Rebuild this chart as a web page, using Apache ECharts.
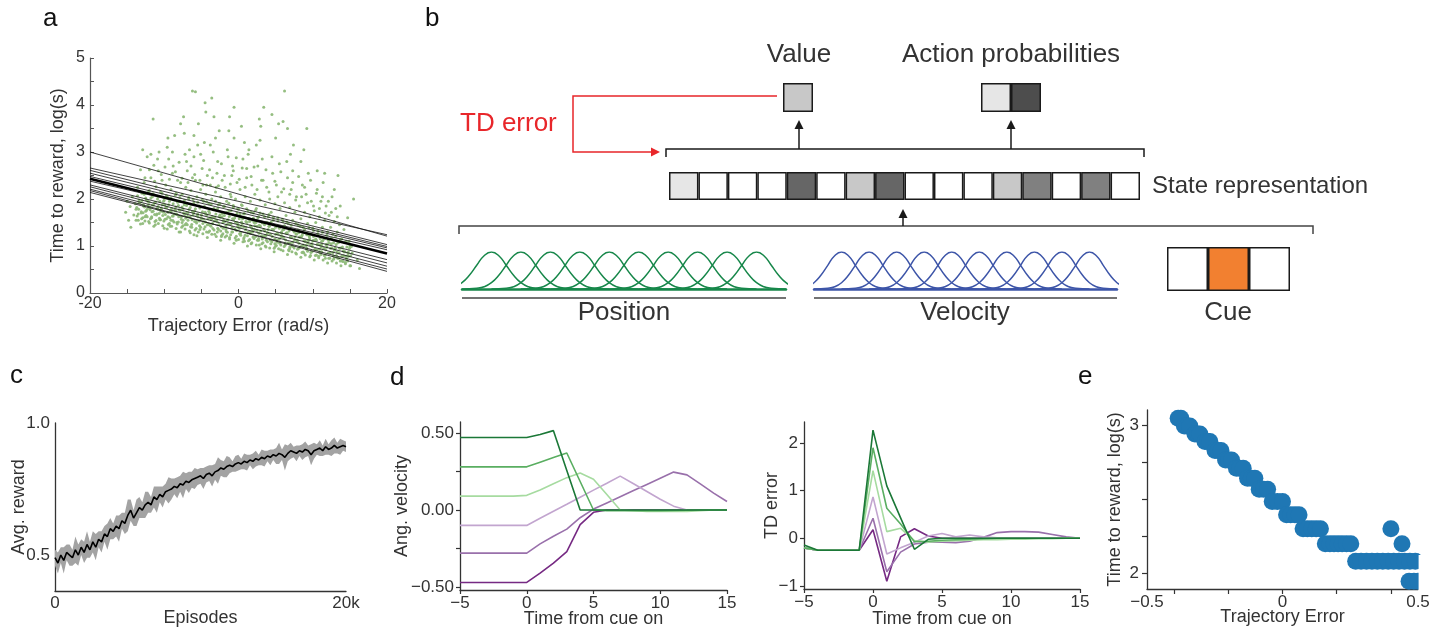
<!DOCTYPE html>
<html>
<head>
<meta charset="utf-8">
<script src="https://cdn.jsdelivr.net/npm/echarts@6/dist/echarts.min.js"></script>
<style>
html,body{margin:0;padding:0;background:#fff;}
#chart{width:1445px;height:641px;}
</style>
</head>
<body>
<div id="chart"></div>
<script>
// ---------- panel a: time to reward vs trajectory error ----------
const trialCloud = [
[-15.2,1.72],[-15.0,1.95],[-14.8,1.55],[-14.6,1.84],[-14.3,2.05],[-14.1,1.66],[-14.5,1.40],[-13.9,1.90],
[-13.8,1.78],[-13.6,2.25],[-13.5,1.55],[-13.4,1.98],[-13.2,2.62],[-13.1,1.70],[-13.0,2.12],[-12.9,1.48],[-12.8,1.88],[-12.7,2.35],[-12.6,1.62],[-12.5,2.02],[-12.4,1.76],[-12.3,2.90],[-12.2,1.95],[-12.1,1.52],[-12.0,2.18],[-12.9,3.05],
[-11.9,1.82],[-11.8,2.45],[-11.7,1.60],[-11.6,2.05],[-11.5,1.74],[-11.4,2.72],[-11.3,1.92],[-11.2,1.45],[-11.1,2.26],[-11.0,1.68],[-10.9,2.00],[-10.8,1.84],[-10.7,3.00],[-10.6,1.56],[-10.5,2.15],[-10.4,1.78],[-10.3,2.40],[-10.2,1.65],[-10.1,1.95],[-10.0,1.38],[-11.5,3.70],[-10.8,2.60],
[-9.9,1.88],[-9.8,2.30],[-9.7,1.58],[-9.6,2.05],[-9.5,1.72],[-9.4,2.85],[-9.3,1.95],[-9.2,1.42],[-9.1,2.20],[-9.0,1.80],[-8.9,2.55],[-8.8,1.64],[-8.7,1.98],[-8.6,3.35],[-8.5,1.76],[-8.4,2.12],[-8.3,1.50],[-8.2,2.40],[-8.1,1.86],[-8.0,1.30],[-9.6,3.10],[-8.8,2.70],[-9.1,1.55],[-8.4,1.68],
[-7.9,1.95],[-7.8,2.35],[-7.7,1.62],[-7.6,2.10],[-7.5,1.78],[-7.4,3.75],[-7.3,1.88],[-7.2,1.45],[-7.1,2.25],[-7.0,1.70],[-6.9,2.60],[-6.8,1.55],[-6.7,2.00],[-6.6,3.05],[-6.5,1.82],[-6.4,2.18],[-6.3,1.40],[-6.2,2.45],[-6.1,1.66],[-6.0,1.92],[-7.3,3.40],[-6.2,4.30],[-7.0,2.80],[-6.5,1.28],[-7.6,1.50],[-6.0,2.90],
[-5.9,1.75],[-5.8,2.40],[-5.7,1.52],[-5.6,2.05],[-5.5,1.68],[-5.4,3.60],[-5.3,1.85],[-5.2,1.35],[-5.1,2.20],[-5.0,1.60],[-4.9,2.65],[-4.8,1.48],[-4.7,1.95],[-4.6,3.20],[-4.5,1.72],[-4.4,2.10],[-4.3,1.30],[-4.2,2.50],[-4.1,1.58],[-4.0,1.90],[-5.8,4.28],[-5.1,2.95],[-4.4,3.85],[-5.6,1.22],[-4.8,2.30],[-4.2,1.45],
[-3.9,1.70],[-3.8,2.30],[-3.7,1.42],[-3.6,2.00],[-3.5,1.62],[-3.4,3.00],[-3.3,1.80],[-3.2,1.25],[-3.1,2.15],[-3.0,1.55],[-2.9,2.55],[-2.8,1.38],[-2.7,1.88],[-2.6,3.45],[-2.5,1.66],[-2.4,2.05],[-2.3,1.20],[-2.2,2.40],[-2.1,1.50],[-2.0,1.84],[-3.6,4.15],[-2.8,2.80],[-3.3,3.75],[-2.4,1.32],[-3.0,2.25],[-2.2,1.62],
[-1.9,1.65],[-1.8,2.25],[-1.7,1.35],[-1.6,1.95],[-1.5,1.55],[-1.4,2.90],[-1.3,1.75],[-1.2,1.18],[-1.1,2.10],[-1.0,1.48],[-0.9,2.50],[-0.8,1.30],[-0.7,1.82],[-0.6,3.30],[-0.5,1.60],[-0.4,2.00],[-0.3,1.12],[-0.2,2.35],[-0.1,1.42],[0.0,1.78],[-1.2,3.75],[-0.8,2.70],[-1.6,1.22],[-0.4,1.50],[-1.0,2.05],[-0.2,1.70],
[0.1,1.58],[0.2,2.20],[0.3,1.28],[0.4,1.88],[0.5,1.48],[0.6,2.85],[0.7,1.68],[0.8,1.10],[0.9,2.05],[1.0,1.40],[1.1,2.45],[1.2,1.22],[1.3,1.75],[1.4,3.05],[1.5,1.52],[1.6,1.95],[1.7,1.05],[1.8,2.30],[1.9,1.35],[2.0,1.70],[0.4,3.55],[1.1,2.65],[0.7,1.15],[1.6,1.30],[0.2,1.62],[1.9,1.55],
[2.1,1.50],[2.2,2.10],[2.3,1.20],[2.4,1.80],[2.5,1.42],[2.6,2.70],[2.7,1.62],[2.8,1.02],[2.9,1.98],[3.0,1.32],[3.1,2.40],[3.2,1.15],[3.3,1.68],[3.4,3.95],[3.5,1.45],[3.6,1.88],[3.7,0.98],[3.8,2.25],[3.9,1.28],[4.0,1.62],[2.4,3.15],[3.2,2.85],[2.7,1.12],[3.6,1.22],[2.2,1.55],[3.9,1.50],
[4.1,1.42],[4.2,2.00],[4.3,1.12],[4.4,1.72],[4.5,1.35],[4.6,2.55],[4.7,1.55],[4.8,0.95],[4.9,1.90],[5.0,1.25],[5.1,2.30],[5.2,1.08],[5.3,1.60],[5.4,3.60],[5.5,1.38],[5.6,1.80],[5.7,0.92],[5.8,2.15],[5.9,1.20],[6.0,1.52],[4.5,3.80],[5.5,2.75],[4.9,1.05],[5.8,1.30],[4.2,1.48],[6.2,4.30],
[6.1,1.35],[6.2,1.92],[6.3,1.05],[6.4,1.65],[6.5,1.28],[6.6,2.45],[6.7,1.48],[6.8,0.90],[6.9,1.82],[7.0,1.18],[7.1,2.20],[7.2,1.00],[7.3,1.55],[7.4,3.15],[7.5,1.30],[7.6,1.72],[7.7,0.85],[7.8,2.05],[7.9,1.12],[8.0,1.45],[6.6,3.50],[7.3,2.60],[6.9,0.98],[7.8,1.25],
[8.1,1.28],[8.2,1.85],[8.3,0.98],[8.4,1.58],[8.5,1.20],[8.6,2.30],[8.7,1.40],[8.8,0.85],[8.9,1.72],[9.0,1.10],[9.1,2.10],[9.2,0.95],[9.3,1.48],[9.4,2.55],[9.5,1.22],[9.6,1.62],[9.7,0.80],[9.8,1.95],[9.9,1.05],[10.0,1.38],[8.4,2.80],[9.2,3.50],[8.7,1.02],[9.6,1.15],
[10.1,1.20],[10.2,1.75],[10.3,0.92],[10.4,1.50],[10.5,1.12],[10.6,2.20],[10.7,1.32],[10.8,0.78],[10.9,1.62],[11.0,1.02],[11.1,1.95],[11.2,0.88],[11.3,1.40],[11.4,2.35],[11.5,1.15],[11.6,1.55],[11.7,0.74],[11.8,1.85],[11.9,0.98],[12.0,1.30],[10.6,2.60],[11.2,1.10],
[12.1,1.12],[12.2,1.65],[12.3,0.85],[12.4,1.40],[12.5,1.05],[12.6,2.05],[12.7,1.25],[12.8,0.72],[12.9,1.52],[13.0,0.95],[13.1,1.80],[13.2,0.80],[13.3,1.30],[13.4,2.50],[13.5,1.08],[13.6,1.45],[13.7,0.68],[13.9,1.15],
[14.1,0.90],[14.2,1.35],[14.4,0.65],[14.5,1.10],[14.7,1.60],[14.8,0.78],[15.0,1.00],[15.1,0.58],[15.3,0.85],[15.5,2.00],[16.0,0.70],[16.3,0.52]
];
// dense band of trials around the fitted trend
const trialCloudCore = [
[-13.8,1.55],[-13.7,1.82],[-13.6,2.07],[-13.5,1.68],[-13.4,1.92],[-13.3,2.16],[-13.2,1.47],[-13.1,1.73],[-13.0,1.97],
[-12.9,1.60],[-12.8,1.85],[-12.7,2.10],[-12.6,1.53],[-12.5,1.74],[-12.4,1.98],[-12.3,1.62],[-12.2,1.86],[-12.1,2.16],
[-12.0,1.49],[-11.9,1.77],[-11.8,2.02],[-11.7,1.62],[-11.6,1.87],[-11.5,2.11],[-11.4,1.42],[-11.3,1.67],[-11.2,1.93],
[-11.1,1.54],[-11.0,1.80],[-10.9,2.06],[-10.8,1.48],[-10.7,1.69],[-10.6,1.95],[-10.5,1.56],[-10.4,1.81],[-10.3,2.12],
[-10.2,1.43],[-10.1,1.72],[-10.0,1.98],[-9.9,1.57],[-9.8,1.82],[-9.7,2.07],[-9.6,1.36],[-9.5,1.62],[-9.4,1.88],
[-9.3,1.48],[-9.2,1.75],[-9.1,2.02],[-9.0,1.42],[-8.9,1.64],[-8.8,1.90],[-8.7,1.51],[-8.6,1.76],[-8.5,2.08],
[-8.4,1.37],[-8.3,1.67],[-8.2,1.93],[-8.1,1.51],[-8.0,1.77],[-7.9,2.03],[-7.8,1.30],[-7.7,1.57],[-7.6,1.83],
[-7.5,1.43],[-7.4,1.70],[-7.3,1.97],[-7.2,1.36],[-7.1,1.59],[-7.0,1.86],[-6.9,1.45],[-6.8,1.71],[-6.7,2.03],
[-6.6,1.32],[-6.5,1.62],[-6.4,1.89],[-6.3,1.46],[-6.2,1.73],[-6.1,1.99],[-6.0,1.24],[-5.9,1.52],[-5.8,1.79],
[-5.7,1.37],[-5.6,1.65],[-5.5,1.93],[-5.4,1.30],[-5.3,1.53],[-5.2,1.81],[-5.1,1.40],[-5.0,1.66],[-4.9,1.99],
[-4.8,1.26],[-4.7,1.57],[-4.6,1.84],[-4.5,1.41],[-4.4,1.68],[-4.3,1.94],[-4.2,1.18],[-4.1,1.46],[-4.0,1.74],
[-3.9,1.32],[-3.8,1.60],[-3.7,1.89],[-3.6,1.25],[-3.5,1.48],[-3.4,1.77],[-3.3,1.34],[-3.2,1.61],[-3.1,1.95],
[-3.0,1.20],[-2.9,1.52],[-2.8,1.80],[-2.7,1.35],[-2.6,1.63],[-2.5,1.90],[-2.4,1.12],[-2.3,1.41],[-2.2,1.69],
[-2.1,1.26],[-2.0,1.55],[-1.9,1.84],[-1.8,1.19],[-1.7,1.43],[-1.6,1.72],[-1.5,1.29],[-1.4,1.56],[-1.3,1.91],
[-1.2,1.15],[-1.1,1.47],[-1.0,1.75],[-0.9,1.30],[-0.8,1.58],[-0.7,1.86],[-0.6,1.06],[-0.5,1.36],[-0.4,1.65],
[-0.3,1.21],[-0.2,1.50],[-0.1,1.80],[0.0,1.14],[0.1,1.38],[0.2,1.68],[0.3,1.23],[0.4,1.51],[0.5,1.86],
[0.6,1.09],[0.7,1.41],[0.8,1.69],[0.9,1.23],[1.0,1.52],[1.1,1.79],[1.2,1.00],[1.3,1.29],[1.4,1.57],
[1.5,1.14],[1.6,1.43],[1.7,1.72],[1.8,1.07],[1.9,1.30],[2.0,1.59],[2.1,1.16],[2.2,1.43],[2.3,1.76],
[2.4,1.02],[2.5,1.33],[2.6,1.60],[2.7,1.16],[2.8,1.44],[2.9,1.70],[3.0,0.94],[3.1,1.22],[3.2,1.49],
[3.3,1.07],[3.4,1.35],[3.5,1.62],[3.6,1.00],[3.7,1.23],[3.8,1.50],[3.9,1.09],[4.0,1.35],[4.1,1.67],
[4.2,0.96],[4.3,1.25],[4.4,1.51],[4.5,1.09],[4.6,1.35],[4.7,1.61],[4.8,0.88],[4.9,1.15],[5.0,1.40],
[5.1,1.01],[5.2,1.27],[5.3,1.53],[5.4,0.94],[5.5,1.15],[5.6,1.42],[5.7,1.02],[5.8,1.27],[5.9,1.57],
[6.0,0.90],[6.1,1.18],[6.2,1.43],[6.3,1.02],[6.4,1.27],[6.5,1.51],[6.6,0.82],[6.7,1.07],[6.8,1.32],
[6.9,0.94],[7.0,1.19],[7.1,1.44],[7.2,0.88],[7.3,1.08],[7.4,1.33],[7.5,0.96],[7.6,1.19],[7.7,1.48],
[7.8,0.83],[7.9,1.10],[8.0,1.34],[8.1,0.95],[8.2,1.19],[8.3,1.42],[8.4,0.76],[8.5,1.00],[8.6,1.24],
[8.7,0.87],[8.8,1.11],[8.9,1.35],[9.0,0.81],[9.1,1.01],[9.2,1.24],[9.3,0.89],[9.4,1.11],[9.5,1.39],
[9.6,0.77],[9.7,1.02],[9.8,1.25],[9.9,0.88],[10.0,1.11],[10.1,1.33],[10.2,0.70],[10.3,0.93],[10.4,1.15],
[10.5,0.81],[10.6,1.03],[10.7,1.26],[10.8,0.75],[10.9,0.93],[11.0,1.16],[11.1,0.82],[11.2,1.03],[11.3,1.29],
[11.4,0.70],[11.5,0.95],[11.6,1.16],[11.7,0.81],[11.8,1.03],[11.9,1.23],[12.0,0.64],[12.1,0.85],[12.2,1.07],
[12.3,0.74],[12.4,0.95],[12.5,1.17],[12.6,0.68],[12.7,0.86],[12.8,1.07],[12.9,0.75],[13.0,0.95],[13.1,1.20],
[13.2,0.64],[13.3,0.87],[13.4,1.07],[13.5,0.74],[13.6,0.95],[13.7,1.14],[13.8,0.58],[13.9,0.78],[14.0,0.98],
[14.1,0.67],[14.2,0.88],[14.3,1.08],[14.4,0.62],[14.5,0.78],[14.6,0.98],[14.7,0.68],[14.8,0.87],[14.9,1.10],
[15.0,0.58],[15.1,0.79],[15.2,0.99],
[-13.65,1.64],[-13.45,1.78],[-13.25,1.92],[-13.05,1.58],[-12.85,1.71],[-12.65,1.83],[-12.45,1.65],[-12.25,1.79],[-12.05,1.93],
[-11.85,1.58],[-11.65,1.73],[-11.45,1.87],[-11.25,1.52],[-11.05,1.66],[-10.85,1.78],[-10.65,1.59],[-10.45,1.74],[-10.25,1.88],
[-10.05,1.53],[-9.85,1.67],[-9.65,1.82],[-9.45,1.46],[-9.25,1.60],[-9.05,1.73],[-8.85,1.54],[-8.65,1.68],[-8.45,1.83],
[-8.25,1.47],[-8.05,1.62],[-7.85,1.76],[-7.65,1.40],[-7.45,1.55],[-7.25,1.67],[-7.05,1.48],[-6.85,1.63],[-6.65,1.78],
[-6.45,1.41],[-6.25,1.56],[-6.05,1.71],[-5.85,1.34],[-5.65,1.49],[-5.45,1.62],[-5.25,1.43],[-5.05,1.58],[-4.85,1.73],
[-4.65,1.36],[-4.45,1.51],[-4.25,1.66],[-4.05,1.29],[-3.85,1.44],[-3.65,1.57],[-3.45,1.37],[-3.25,1.53],[-3.05,1.68],
[-2.85,1.30],[-2.65,1.46],[-2.45,1.61],[-2.25,1.23],[-2.05,1.38],[-1.85,1.52],[-1.65,1.31],[-1.45,1.47],[-1.25,1.63],
[-1.05,1.24],[-0.85,1.40],[-0.65,1.56],[-0.45,1.17],[-0.25,1.33],[-0.05,1.46],[0.15,1.26],[0.35,1.42],[0.55,1.58],
[0.75,1.18],[0.95,1.34],[1.15,1.50],[1.35,1.11],[1.55,1.27],[1.75,1.40],[1.95,1.19],[2.15,1.35],[2.35,1.50],
[2.55,1.12],[2.75,1.27],[2.95,1.42],[3.15,1.05],[3.35,1.20],[3.55,1.32],[3.75,1.12],[3.95,1.27],[4.15,1.42],
[4.35,1.05],[4.55,1.20],[4.75,1.35],[4.95,0.99],[5.15,1.13],[5.35,1.25],[5.55,1.06],[5.75,1.20],[5.95,1.34],
[6.15,0.99],[6.35,1.13],[6.55,1.27],[6.75,0.92],[6.95,1.06],[7.15,1.18],[7.35,0.99],[7.55,1.13],[7.75,1.26],
[7.95,0.93],[8.15,1.06],[8.35,1.19],[8.55,0.86],[8.75,0.99],[8.95,1.10],[9.15,0.93],[9.35,1.06],[9.55,1.19],
[9.75,0.86],[9.95,0.99],[10.15,1.12],[10.35,0.80],[10.55,0.92],[10.75,1.03],[10.95,0.86],[11.15,0.98],[11.35,1.11],
[11.55,0.80],[11.75,0.92],[11.95,1.04],[12.15,0.74],[12.35,0.86],[12.55,0.96],[12.75,0.79],[12.95,0.91],[13.15,1.03],
[13.35,0.74],[13.55,0.85],[13.75,0.96],[13.95,0.68],[14.15,0.79],[14.35,0.88],[14.55,0.73],[14.75,0.84],[14.95,0.95]
];
// scattered slow trials above the band
const trialCloudUpper = [
[-12.6,2.45],[-12.0,2.62],[-11.3,2.38],[-10.9,2.85],[-10.4,2.52],[-9.9,2.68],[-9.3,2.42],[-8.9,3.00],[-8.5,2.58],[-8.0,2.78],
[-7.6,2.44],[-7.2,2.95],[-6.8,2.35],[-6.4,2.70],[-5.9,2.52],[-5.5,3.15],[-5.2,2.40],[-4.7,2.82],[-4.3,2.30],[-3.9,2.62],
[-3.5,2.45],[-3.1,3.30],[-2.7,2.28],[-2.3,2.75],[-1.9,2.50],[-1.5,3.05],[-1.1,2.32],[-0.7,2.60],[-0.3,2.88],[0.1,2.42],
[0.5,2.66],[0.9,2.25],[1.3,2.95],[1.7,2.48],[2.1,2.68],[2.5,2.20],[2.9,3.25],[3.3,2.40],[3.7,2.62],[4.1,2.15],
[4.5,2.90],[4.9,2.38],[5.3,2.05],[5.7,2.58],[6.1,2.22],[6.5,2.80],[6.9,2.10],[7.3,2.35],[7.7,1.98],[8.1,2.48],
[8.5,2.05],[8.9,2.25],[9.3,1.92],[9.7,2.40],[10.1,1.85],[10.5,2.12],[10.9,1.80],[11.3,2.05],[11.7,1.70],[12.1,1.95],
[12.5,1.72],[12.9,2.20],[13.3,1.62],[13.7,1.85],[-11.8,2.95],[-9.5,3.30],[-6.0,3.35],[-3.8,3.15],[-1.3,3.45],[0.8,3.20],
[3.0,3.55],[5.0,3.30],[7.0,2.95],[8.8,3.05],[11.6,2.55],[-0.6,3.95],[2.8,3.70],[-4.5,4.05],[6.0,3.65],[-7.8,3.60]
];
// per-run linear fits, value at error = -20 and at error = +20
const fitStart = [3.00, 2.66, 2.61, 2.55, 2.48, 2.38, 2.30, 2.26, 2.21, 2.14, 2.18];
const fitEnd   = [1.21, 1.24, 1.03, 0.99, 0.96, 0.92, 0.71, 0.64, 0.57, 0.51, 0.46];
const meanFit  = [2.43, 0.84];
const errorSpan = [-20, 20];

// ---------- panel b: network schematic ----------
const valueShade  = ['#c8c8c8'];
const actionShade = ['#e6e6e6', '#4d4d4d'];
const stateShade  = ['#e6e6e6','#ffffff','#ffffff','#ffffff','#666666','#ffffff','#c8c8c8','#666666',
                     '#ffffff','#ffffff','#ffffff','#c8c8c8','#808080','#ffffff','#808080','#ffffff'];
const cueShade    = ['#ffffff', '#f28030', '#ffffff'];
const basisCenters = [1, 2, 3, 4, 5, 6, 7, 8, 9, 10];
const bumpShape = [[-2,0],[-1.5,0.02],[-1.25,0.06],[-1,0.17],[-0.75,0.37],[-0.5,0.64],[-0.25,0.9],[0,1],
                   [0.25,0.9],[0.5,0.64],[0.75,0.37],[1,0.17],[1.25,0.06],[1.5,0.02],[2,0]];

// ---------- panel c: learning curve ----------
const episodeStep = 200;
const rewardMean = [
0.49,0.47,0.50,0.48,0.51,0.50,0.49,0.52,0.50,0.53,
0.51,0.54,0.52,0.55,0.53,0.56,0.55,0.58,0.57,0.60,
0.59,0.61,0.60,0.63,0.62,0.65,0.67,0.64,0.66,0.68,
0.67,0.69,0.70,0.69,0.72,0.71,0.73,0.72,0.74,0.745,
0.75,0.76,0.755,0.77,0.765,0.78,0.775,0.785,0.79,0.795,
0.80,0.79,0.805,0.81,0.80,0.815,0.82,0.83,0.825,0.835,
0.84,0.835,0.845,0.85,0.845,0.855,0.85,0.86,0.855,0.865,
0.86,0.87,0.865,0.875,0.87,0.88,0.875,0.885,0.88,0.87,
0.885,0.895,0.89,0.885,0.895,0.89,0.90,0.895,0.88,0.895,
0.90,0.905,0.895,0.91,0.90,0.905,0.915,0.905,0.91,0.915,
0.91];
const rewardSpread = [
0.03,0.04,0.03,0.05,0.03,0.04,0.03,0.05,0.04,0.03,
0.04,0.05,0.03,0.04,0.05,0.03,0.04,0.03,0.05,0.04,
0.03,0.04,0.05,0.03,0.04,0.06,0.04,0.03,0.05,0.04,
0.03,0.05,0.04,0.03,0.04,0.05,0.03,0.04,0.03,0.05,
0.04,0.03,0.04,0.03,0.05,0.03,0.04,0.03,0.04,0.03,
0.03,0.04,0.03,0.03,0.04,0.03,0.05,0.03,0.03,0.04,
0.03,0.02,0.03,0.03,0.02,0.03,0.03,0.02,0.03,0.03,
0.02,0.03,0.03,0.02,0.03,0.02,0.03,0.04,0.02,0.05,
0.03,0.03,0.02,0.03,0.02,0.03,0.03,0.02,0.04,0.03,
0.02,0.03,0.02,0.03,0.02,0.03,0.03,0.02,0.03,0.02,
0.02];

// ---------- panel d: responses around cue onset ----------
const cueTime = [-5,-4,-3,-2,-1,0,1,2,3,4,5,6,7,8,9,10,11,12,13,14,15];
const velDarkPurple  = [-0.47,-0.47,-0.47,-0.47,-0.47,-0.47,-0.41,-0.345,-0.27,-0.095,-0.015,0,0,0,0,0,0,0,0,0,0];
const velMidPurple   = [-0.28,-0.28,-0.28,-0.28,-0.28,-0.28,-0.22,-0.17,-0.124,-0.05,0.006,0.046,0.086,0.126,0.166,0.206,0.246,0.228,0.17,0.11,0.055];
const velLightPurple = [-0.10,-0.10,-0.10,-0.10,-0.10,-0.10,-0.054,-0.008,0.037,0.083,0.129,0.174,0.22,0.17,0.12,0.07,0.025,0.0,0,0,0];
const velLightGreen  = [0.09,0.09,0.09,0.09,0.09,0.095,0.13,0.17,0.21,0.24,0.20,0.10,0.0,-0.005,-0.01,-0.01,-0.01,-0.01,-0.005,0,0];
const velMidGreen    = [0.28,0.28,0.28,0.28,0.28,0.28,0.31,0.34,0.37,0.185,0,-0.004,-0.005,-0.005,-0.005,-0.004,-0.003,-0.002,0,0,0];
const velDarkGreen   = [0.47,0.47,0.47,0.47,0.47,0.47,0.49,0.515,0.257,0,0,0,0,0,0,0,0,0,0,0,0];

const tdDarkPurple  = [-0.20,-0.25,-0.25,-0.25,-0.25,0.18,-0.90,0.03,0.20,0.05,0.0,0,0,0,0,0,0,0,0,0,0];
const tdMidPurple   = [-0.20,-0.25,-0.25,-0.25,-0.25,0.42,-0.70,-0.29,-0.12,-0.08,-0.08,-0.09,-0.06,0.02,0.12,0.14,0.14,0.13,0.08,0.03,0];
const tdLightPurple = [-0.20,-0.25,-0.25,-0.25,-0.25,0.87,-0.33,-0.20,-0.08,0.05,0.10,0.03,0.07,0.03,0.01,0,0,0,0,0,0];
const tdLightGreen  = [-0.20,-0.25,-0.25,-0.25,-0.25,1.42,0.14,0.21,-0.05,-0.08,-0.06,-0.05,-0.04,-0.03,-0.03,-0.02,-0.02,-0.01,-0.01,0,0];
const tdMidGreen    = [-0.20,-0.25,-0.25,-0.25,-0.25,1.90,0.63,0.30,-0.07,-0.06,-0.04,-0.03,-0.02,-0.01,0,0,0,0,0,0,0];
const tdDarkGreen   = [-0.14,-0.25,-0.25,-0.25,-0.25,2.27,1.10,0.43,-0.23,-0.02,0,0,0,0,0,0,0,0,0,0,0];

const traceColors = ['#762a83', '#9970ab', '#c2a5cf', '#a6dba0', '#5aae61', '#1b7837'];

// ---------- panel e: model time to reward vs trajectory error ----------
const modelPoints = [
[-0.385,3.045],[-0.375,3.045],
[-0.362,2.993],[-0.352,2.993],[-0.342,2.993],
[-0.323,2.939],[-0.314,2.939],[-0.305,2.939],
[-0.286,2.888],[-0.277,2.888],[-0.268,2.888],
[-0.249,2.827],[-0.238,2.827],[-0.227,2.827],
[-0.210,2.764],[-0.199,2.764],[-0.188,2.764],
[-0.170,2.708],[-0.158,2.708],[-0.145,2.708],
[-0.129,2.640],[-0.115,2.640],[-0.102,2.640],
[-0.086,2.566],[-0.070,2.566],[-0.055,2.566],
[-0.038,2.483],[-0.019,2.483],[0.000,2.483],
[0.015,2.393],[0.030,2.393],[0.046,2.393],[0.061,2.393],
[0.076,2.299],[0.092,2.299],[0.108,2.299],[0.124,2.299],[0.140,2.299],
[0.158,2.198],[0.175,2.198],[0.190,2.198],[0.205,2.198],[0.220,2.198],[0.236,2.198],[0.252,2.198],
[0.270,2.079],[0.290,2.079],[0.310,2.079],[0.330,2.079],[0.350,2.079],[0.370,2.079],[0.390,2.079],
[0.410,2.079],[0.430,2.079],[0.450,2.079],[0.470,2.079],[0.490,2.079],
[0.467,1.944],[0.485,1.944],[0.500,1.944],
[0.400,2.299],[0.441,2.198]
];

// ---------- shared styling ----------
const FONT = '"Liberation Sans", Arial, Helvetica, sans-serif';
const INK = '#333333';
const LINE_INK = '#1a1a1a';
const minus = v => String(v).replace('-', '\u2212');

function merge(base, over) {
  const out = JSON.parse(JSON.stringify(base));
  Object.keys(over).forEach(k => {
    const v = over[k];
    if (v && typeof v === 'object' && !Array.isArray(v) && out[k] && typeof out[k] === 'object') {
      Object.assign(out[k], v);
    } else {
      out[k] = v;
    }
  });
  return out;
}
const axisBase = {
  type: 'value',
  axisLine: {show: true, onZero: false, lineStyle: {color: INK, width: 1.3}},
  axisTick: {show: true, inside: false, length: 4, lineStyle: {color: INK, width: 1.2}},
  axisLabel: {show: true, color: INK, fontSize: 17, fontFamily: FONT, margin: 6},
  splitLine: {show: false},
  nameLocation: 'middle',
  nameMoveOverlap: false,
  nameTextStyle: {color: INK, fontSize: 18, fontFamily: FONT}
};
const hiddenAxis = {type: 'value', show: false, splitLine: {show: false}};

const grids = [
  {left: 90,  top: 58,  width: 297, height: 235},  // a
  {left: 55,  top: 423, width: 291, height: 168},  // c
  {left: 460, top: 422, width: 267, height: 168},  // d velocity
  {left: 804, top: 422, width: 276, height: 167},  // d TD error
  {left: 1147, top: 410, width: 271, height: 179}, // e
  {left: 783, top: 83,  width: 30,  height: 29},   // value unit
  {left: 981, top: 83,  width: 60,  height: 29},   // action units
  {left: 669, top: 172, width: 471, height: 28},   // state representation
  {left: 1167, top: 247, width: 123, height: 44},  // cue units
  {left: 462, top: 252, width: 324, height: 37},   // position basis
  {left: 814, top: 252, width: 303, height: 37}    // velocity basis
].map(g => Object.assign({containLabel: false, outerBoundsMode: 'none', show: false}, g));

const xAxes = [
  merge(axisBase, {gridIndex: 0, min: errorSpan[0], max: errorSpan[1], interval: 5,
    name: 'Trajectory Error (rad/s)', nameGap: 24,
    axisLine: {lineStyle: {color: '#555', width: 1.2}},
    axisTick: {inside: true, length: 4, lineStyle: {color: '#555', width: 1}},
    axisLabel: {fontSize: 16, margin: 3, formatter: v => (v === -20 || v === 0 || v === 20) ? String(v) : ''}}),
  merge(axisBase, {gridIndex: 1, min: 0, max: 20000, name: 'Episodes', nameGap: 18,
    axisTick: {show: false},
    axisLabel: {margin: 4, customValues: [0, 20000], formatter: v => v === 0 ? '0' : '20k'}}),
  merge(axisBase, {gridIndex: 2, min: -5, max: 15, interval: 5, name: 'Time from cue on', nameGap: 20,
    axisLabel: {margin: 5, formatter: minus}}),
  merge(axisBase, {gridIndex: 3, min: -5, max: 15, interval: 5, name: 'Time from cue on', nameGap: 21,
    axisLabel: {margin: 5, formatter: minus}}),
  merge(axisBase, {gridIndex: 4, min: -0.5, max: 0.5, name: 'Trajectory Error', nameGap: 19,
    axisTick: {length: 5, customValues: [-0.4, -0.2, 0, 0.2, 0.4]},
    axisLabel: {margin: 5, customValues: [-0.5, 0, 0.5], formatter: minus}}),
  {type: 'category', gridIndex: 5, show: false, data: valueShade.map((c, i) => i)},
  {type: 'category', gridIndex: 6, show: false, data: actionShade.map((c, i) => i)},
  {type: 'category', gridIndex: 7, show: false, data: stateShade.map((c, i) => i)},
  {type: 'category', gridIndex: 8, show: false, data: cueShade.map((c, i) => i)},
  {type: 'value', gridIndex: 9, min: 0, max: 11, splitLine: {show: false},
    axisLine: {show: true, lineStyle: {color: '#17874a', width: 2.5}}, axisTick: {show: false}, axisLabel: {show: false}},
  {type: 'value', gridIndex: 10, min: 0, max: 11, splitLine: {show: false},
    axisLine: {show: true, lineStyle: {color: '#3d55a8', width: 2.5}}, axisTick: {show: false}, axisLabel: {show: false}}
];

const yAxes = [
  merge(axisBase, {gridIndex: 0, min: 0, max: 5, interval: 0.5,
    name: 'Time to reward, log(s)', nameGap: 23,
    axisLine: {lineStyle: {color: '#555', width: 1.2}},
    axisTick: {inside: true, length: 4, lineStyle: {color: '#555', width: 1}},
    axisLabel: {fontSize: 16, margin: 5, formatter: v => Number.isInteger(v) ? String(v) : ''}}),
  merge(axisBase, {gridIndex: 1, min: 0.364, max: 1.0, name: 'Avg. reward', nameGap: 27,
    axisTick: {show: false},
    axisLabel: {margin: 5, customValues: [0.5, 1.0], formatter: v => v.toFixed(1)}}),
  merge(axisBase, {gridIndex: 2, min: -0.519, max: 0.571, name: 'Ang. velocity', nameGap: 49,
    axisTick: {customValues: [-0.5, -0.25, 0, 0.25, 0.5]},
    axisLabel: {customValues: [-0.5, 0, 0.5], formatter: v => minus(v.toFixed(2))}}),
  merge(axisBase, {gridIndex: 3, min: -1.063, max: 2.44, name: 'TD error', nameGap: 23,
    axisTick: {customValues: [-1, 0, 1, 2]},
    axisLabel: {customValues: [-1, 0, 1, 2], formatter: minus}}),
  merge(axisBase, {gridIndex: 4, min: 1.892, max: 3.101, name: 'Time to reward, log(s)', nameGap: 23,
    axisTick: {length: 5, customValues: [2, 2.25, 2.5, 2.75, 3]},
    axisLabel: {margin: 8, customValues: [2, 3]}}),
  Object.assign({gridIndex: 5, min: 0, max: 1}, hiddenAxis),
  Object.assign({gridIndex: 6, min: 0, max: 1}, hiddenAxis),
  Object.assign({gridIndex: 7, min: 0, max: 1}, hiddenAxis),
  Object.assign({gridIndex: 8, min: 0, max: 1}, hiddenAxis),
  Object.assign({gridIndex: 9, min: 0, max: 1}, hiddenAxis),
  Object.assign({gridIndex: 10, min: 0, max: 1}, hiddenAxis)
];

const series = [];

// a: scatter + fits
series.push({type: 'scatter', xAxisIndex: 0, yAxisIndex: 0,
  data: trialCloud.concat(trialCloudCore, trialCloudUpper), symbolSize: 3,
  itemStyle: {color: '#8fbb7a', opacity: 0.95}, silent: true, z: 2});
fitStart.forEach((s, i) => {
  series.push({type: 'line', xAxisIndex: 0, yAxisIndex: 0, showSymbol: false, silent: true, z: 3,
    data: [[errorSpan[0], s], [errorSpan[1], fitEnd[i]]],
    lineStyle: {color: '#111', width: 0.8}});
});
series.push({type: 'line', xAxisIndex: 0, yAxisIndex: 0, showSymbol: false, silent: true, z: 4,
  data: [[errorSpan[0], meanFit[0]], [errorSpan[1], meanFit[1]]],
  lineStyle: {color: '#000', width: 2.6}});

// b: unit rows drawn as bars on hidden category axes
function unitRow(idx, shades) {
  return {type: 'bar', xAxisIndex: idx, yAxisIndex: idx, barCategoryGap: 0, silent: true,
    data: shades.map(c => ({value: 1, itemStyle: {color: c}})),
    itemStyle: {borderColor: LINE_INK, borderWidth: 1.5}};
}
series.push(unitRow(5, valueShade), unitRow(6, actionShade), unitRow(7, stateShade), unitRow(8, cueShade));
function basisRow(idx, color) {
  basisCenters.forEach(c => {
    series.push({type: 'line', xAxisIndex: idx, yAxisIndex: idx, smooth: true, showSymbol: false, silent: true,
      clip: true, data: bumpShape.map(p => [c + p[0], p[1]]), lineStyle: {color: color, width: 1.5}});
  });
}
basisRow(9, '#17874a');
basisRow(10, '#3d55a8');

// c: band + mean
const episodes = rewardMean.map((m, i) => i * episodeStep);
series.push({type: 'custom', xAxisIndex: 1, yAxisIndex: 1, silent: true, clip: true, z: 2,
  data: [[0, 0]],
  renderItem: (params, api) => {
    const upper = episodes.map((e, i) => api.coord([e, rewardMean[i] + rewardSpread[i]]));
    const lower = episodes.map((e, i) => api.coord([e, rewardMean[i] - rewardSpread[i]])).reverse();
    return {type: 'polygon', shape: {points: upper.concat(lower)}, style: {fill: '#a3a3a3'}};
  }});
series.push({type: 'line', xAxisIndex: 1, yAxisIndex: 1, showSymbol: false, silent: true, z: 3,
  data: episodes.map((e, i) => [e, rewardMean[i]]), lineStyle: {color: '#000', width: 1.6}});

// d: six traces in each panel
[velDarkPurple, velMidPurple, velLightPurple, velLightGreen, velMidGreen, velDarkGreen].forEach((arr, i) => {
  series.push({type: 'line', xAxisIndex: 2, yAxisIndex: 2, showSymbol: false, silent: true,
    data: cueTime.map((t, k) => [t, arr[k]]), lineStyle: {color: traceColors[i], width: 1.6}});
});
[tdDarkPurple, tdMidPurple, tdLightPurple, tdLightGreen, tdMidGreen, tdDarkGreen].forEach((arr, i) => {
  series.push({type: 'line', xAxisIndex: 3, yAxisIndex: 3, showSymbol: false, silent: true,
    data: cueTime.map((t, k) => [t, arr[k]]), lineStyle: {color: traceColors[i], width: 1.6}});
});

// e: model scatter
series.push({type: 'scatter', xAxisIndex: 4, yAxisIndex: 4, data: modelPoints, symbolSize: 17, silent: true,
  itemStyle: {color: '#1f77b4', opacity: 1}});

// ---------- schematic connectors and text ----------
function upArrow(x, yBase, yTip) {
  return [
    {type: 'line', shape: {x1: x, y1: yBase, x2: x, y2: yTip + 7}, style: {stroke: LINE_INK, lineWidth: 1.5}},
    {type: 'polygon', shape: {points: [[x, yTip], [x - 4.5, yTip + 9], [x + 4.5, yTip + 9]]}, style: {fill: LINE_INK}}
  ];
}
function text(str, x, y, size, color, align) {
  return {type: 'text', x: x, y: y, silent: true,
    style: {text: str, font: size + 'px ' + FONT, fill: color, align: align || 'center', verticalAlign: 'middle'}};
}
const RED = '#e8262a';
const graphic = [].concat(
  [{type: 'polyline', shape: {points: [[666, 157], [666, 149], [1144, 149], [1144, 157]]}, style: {stroke: LINE_INK, lineWidth: 1.5, fill: null}}],
  upArrow(799, 149, 120), upArrow(1011, 149, 120),
  [{type: 'polyline', shape: {points: [[459, 234], [459, 226], [1313, 226], [1313, 234]]}, style: {stroke: '#444', lineWidth: 1.5, fill: null}}],
  upArrow(903, 226, 209),
  [{type: 'line', shape: {x1: 462, y1: 298, x2: 786, y2: 298}, style: {stroke: '#444', lineWidth: 1.5}},
   {type: 'line', shape: {x1: 814, y1: 298, x2: 1117, y2: 298}, style: {stroke: '#444', lineWidth: 1.5}},
   {type: 'polyline', shape: {points: [[777, 96], [573, 96], [573, 152], [652, 152]]}, style: {stroke: RED, lineWidth: 1.5, fill: null}},
   {type: 'polygon', shape: {points: [[660, 152], [651, 147.5], [651, 156.5]]}, style: {fill: RED}},
   {type: 'rect', shape: {x: 1418.6, y: 555, width: 26, height: 36}, style: {fill: '#fff'}, z: 50},
   text('Value', 799, 55, 26, INK),
   text('Action probabilities', 1011, 55, 26, INK),
   text('TD error', 460, 124, 26, RED, 'left'),
   text('State representation', 1152, 186, 24, INK, 'left'),
   text('Position', 624, 313, 26, INK),
   text('Velocity', 965, 313, 26, INK),
   text('Cue', 1228, 313, 26, INK),
   text('a', 43, 19, 26, '#111', 'left'),
   text('b', 425, 19, 26, '#111', 'left'),
   text('c', 10, 376, 26, '#111', 'left'),
   text('d', 390, 378, 26, '#111', 'left'),
   text('e', 1078, 377, 26, '#111', 'left')]
);

const chart = echarts.init(document.getElementById('chart'), null, {renderer: 'canvas'});
chart.setOption({
  animation: false,
  backgroundColor: '#fff',
  textStyle: {fontFamily: FONT},
  grid: grids,
  xAxis: xAxes,
  yAxis: yAxes,
  series: series,
  graphic: graphic
});
</script>
</body>
</html>
